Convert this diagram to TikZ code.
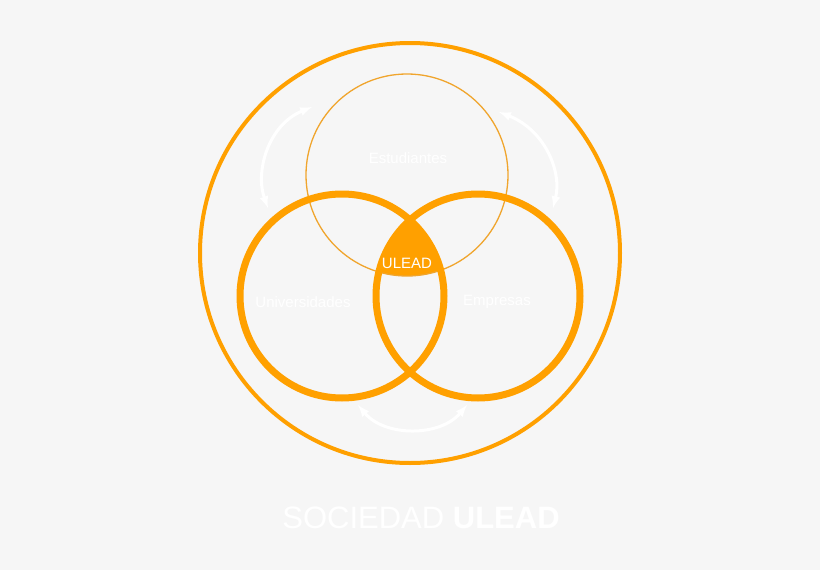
\documentclass[tikz,border=0pt]{standalone}
\usepackage{fontspec}
\setmainfont{Liberation Sans}
\definecolor{ulead}{RGB}{255,160,0}
\definecolor{uleadthin}{RGB}{240,165,45}
\definecolor{fondo}{RGB}{246,246,246}
\begin{document}
\begin{tikzpicture}[x=1pt, y=-1pt,
    etiqueta/.style={text=white, font=\fontsize{15}{17}\selectfont, inner sep=0pt},
    flecha/.style={white, line width=3pt, latex-latex}]
                % Fondo
                \fill [fondo] (0, 0) rectangle (820, 570);
                \useasboundingbox (0, 0) rectangle (820, 570);
                % Centros
                \coordinate (sociedad) at (410, 253);
                \coordinate (estudiantes) at (407, 175);
                \coordinate (universidades) at (342, 296);
                \coordinate (empresas) at (478, 296);
                % Interseccion ULEAD
                \begin{scope}
                    \clip (universidades) circle (102);
                    \clip (empresas) circle (102);
                    \fill [ulead] (estudiantes) circle (101);
                \end{scope}
                % Circulos
                \draw [ulead, line width=4pt] (sociedad) circle (210);
                \draw [uleadthin, line width=1.3pt] (estudiantes) circle (101);
                \draw [ulead, line width=7pt] (universidades) circle (102);
                \draw [ulead, line width=7pt] (empresas) circle (102);
                % Textos
                \node [etiqueta] (t-est) at (408, 158) {Estudiantes};
                \node [etiqueta] (t-uni) at (303, 302) {Universidades};
                \node [etiqueta] (t-emp) at (497, 302) {Empresas};
                \node [etiqueta] (t-ulead) at (407, 263) {ULEAD};
                \node [text=white, inner sep=0pt, font=\fontsize{31}{34}\selectfont] (t-soc) at (421, 518) {SOCIEDAD \textbf{ULEAD}};
                % Flechas
                \coordinate (a1) at (312, 107);
                \coordinate (a2) at (268, 208);
                \coordinate (b1) at (499, 112);
                \coordinate (b2) at (553, 208);
                \coordinate (c1) at (358, 405);
                \coordinate (c2) at (467, 405);
                \draw [flecha] (a1) .. controls (268, 125) and (255, 172) .. (a2);
                \draw [flecha] (b1) .. controls (545, 130) and (562, 172) .. (b2);
                \draw [flecha] (c1) .. controls (385, 437) and (440, 437) .. (c2);
\end{tikzpicture}
\end{document}
